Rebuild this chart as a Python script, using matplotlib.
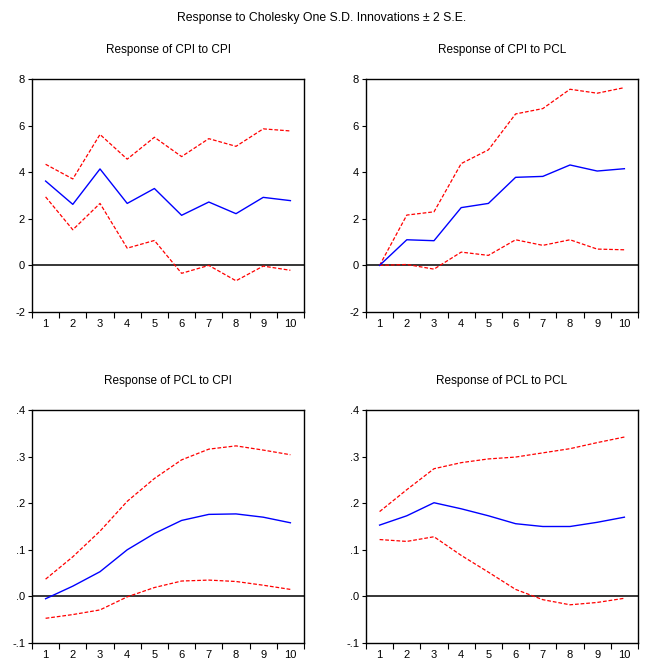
import numpy as np
import matplotlib
matplotlib.use("Agg")
import matplotlib.pyplot as plt

plt.rcParams['font.family'] = ['Liberation Sans Narrow', 'Liberation Sans', 'DejaVu Sans']

# 期間
periods = [1, 2, 3, 4, 5, 6, 7, 8, 9, 10]

# Response of CPI to CPI
cpi_cpi = [3.62, 2.62, 4.14, 2.66, 3.30, 2.15, 2.72, 2.22, 2.92, 2.78]
cpi_cpi_up = [4.34, 3.71, 5.62, 4.56, 5.50, 4.67, 5.44, 5.11, 5.86, 5.77]
cpi_cpi_lo = [2.94, 1.53, 2.66, 0.74, 1.07, -0.34, 0.00, -0.66, -0.03, -0.21]

# Response of CPI to PCL
cpi_pcl = [0.0, 1.10, 1.06, 2.48, 2.66, 3.78, 3.82, 4.31, 4.05, 4.15]
cpi_pcl_up = [0.0, 2.16, 2.30, 4.37, 4.96, 6.50, 6.73, 7.56, 7.39, 7.63]
cpi_pcl_lo = [0.0, 0.04, -0.16, 0.57, 0.43, 1.10, 0.86, 1.10, 0.70, 0.67]

# Response of PCL to CPI
pcl_cpi = [-0.005, 0.022, 0.053, 0.100, 0.135, 0.163, 0.176, 0.177, 0.170, 0.158]
pcl_cpi_up = [0.037, 0.085, 0.140, 0.204, 0.253, 0.293, 0.316, 0.323, 0.314, 0.304]
pcl_cpi_lo = [-0.047, -0.039, -0.029, -0.001, 0.019, 0.033, 0.035, 0.032, 0.024, 0.015]

# Response of PCL to PCL
pcl_pcl = [0.153, 0.173, 0.201, 0.188, 0.173, 0.156, 0.150, 0.150, 0.159, 0.170]
pcl_pcl_up = [0.182, 0.229, 0.274, 0.287, 0.295, 0.299, 0.308, 0.317, 0.330, 0.342]
pcl_pcl_lo = [0.122, 0.118, 0.128, 0.088, 0.052, 0.015, -0.007, -0.018, -0.013, -0.004]

titles = ["Response of CPI to CPI", "Response of CPI to PCL",
          "Response of PCL to CPI", "Response of PCL to PCL"]

top_ticks = [-2, 0, 2, 4, 6, 8]
top_labels = ["-2", "0", "2", "4", "6", "8"]
bot_ticks = [-0.1, 0.0, 0.1, 0.2, 0.3, 0.4]
bot_labels = ["-.1", ".0", ".1", ".2", ".3", ".4"]

W, H = 645, 663
fig = plt.figure(figsize=(W / 100, H / 100), dpi=100)

# axes位置（ピクセル）
boxes = [(32, 79, 304, 312), (366, 79, 638, 312),
         (32, 410, 304, 643), (366, 410, 638, 643)]
series = [(cpi_cpi, cpi_cpi_up, cpi_cpi_lo),
          (cpi_pcl, cpi_pcl_up, cpi_pcl_lo),
          (pcl_cpi, pcl_cpi_up, pcl_cpi_lo),
          (pcl_pcl, pcl_pcl_up, pcl_pcl_lo)]

for i in range(4):
    l, t, r, b = boxes[i]
    ax = fig.add_axes([l / W, 1 - b / H, (r - l) / W, (b - t) / H])
    mid, up, lo = series[i]
    ax.axhline(0, color='black', lw=1.1)
    ax.plot(periods, up, color='red', lw=0.9, ls=(0, (3, 1.5)))
    ax.plot(periods, lo, color='red', lw=0.9, ls=(0, (3, 1.5)))
    ax.plot(periods, mid, color='blue', lw=1.0)
    ax.set_xlim(0.5, 10.5)
    if i < 2:
        ax.set_ylim(-2, 8)
        ax.set_yticks(top_ticks)
        ax.set_yticklabels(top_labels)
    else:
        ax.set_ylim(-0.1, 0.4)
        ax.set_yticks(bot_ticks)
        ax.set_yticklabels(bot_labels)
    ax.set_xticks(periods)
    ax.set_xticklabels([str(p) for p in periods])
    ax.set_xticks(np.arange(0.5, 11, 1), minor=True)
    ax.tick_params(axis='x', which='major', length=0, labelsize=8, pad=5)
    ax.tick_params(axis='x', which='minor', length=4, direction='out', width=0.8)
    ax.tick_params(axis='y', length=3, direction='out', labelsize=8, pad=2, width=0.8)
    for s in ax.spines.values():
        s.set_linewidth(1.0)
    fig.text((l + r) / 2 / W, 1 - (t - 29) / H, titles[i], ha='center', va='center', fontsize=8.5)

fig.text(322 / W, 1 - 18 / H, "Response to Cholesky One S.D. Innovations \u00b1 2 S.E.",
         ha='center', va='center', fontsize=8.8)

fig.savefig('out.png', dpi=100)
plt.close()
